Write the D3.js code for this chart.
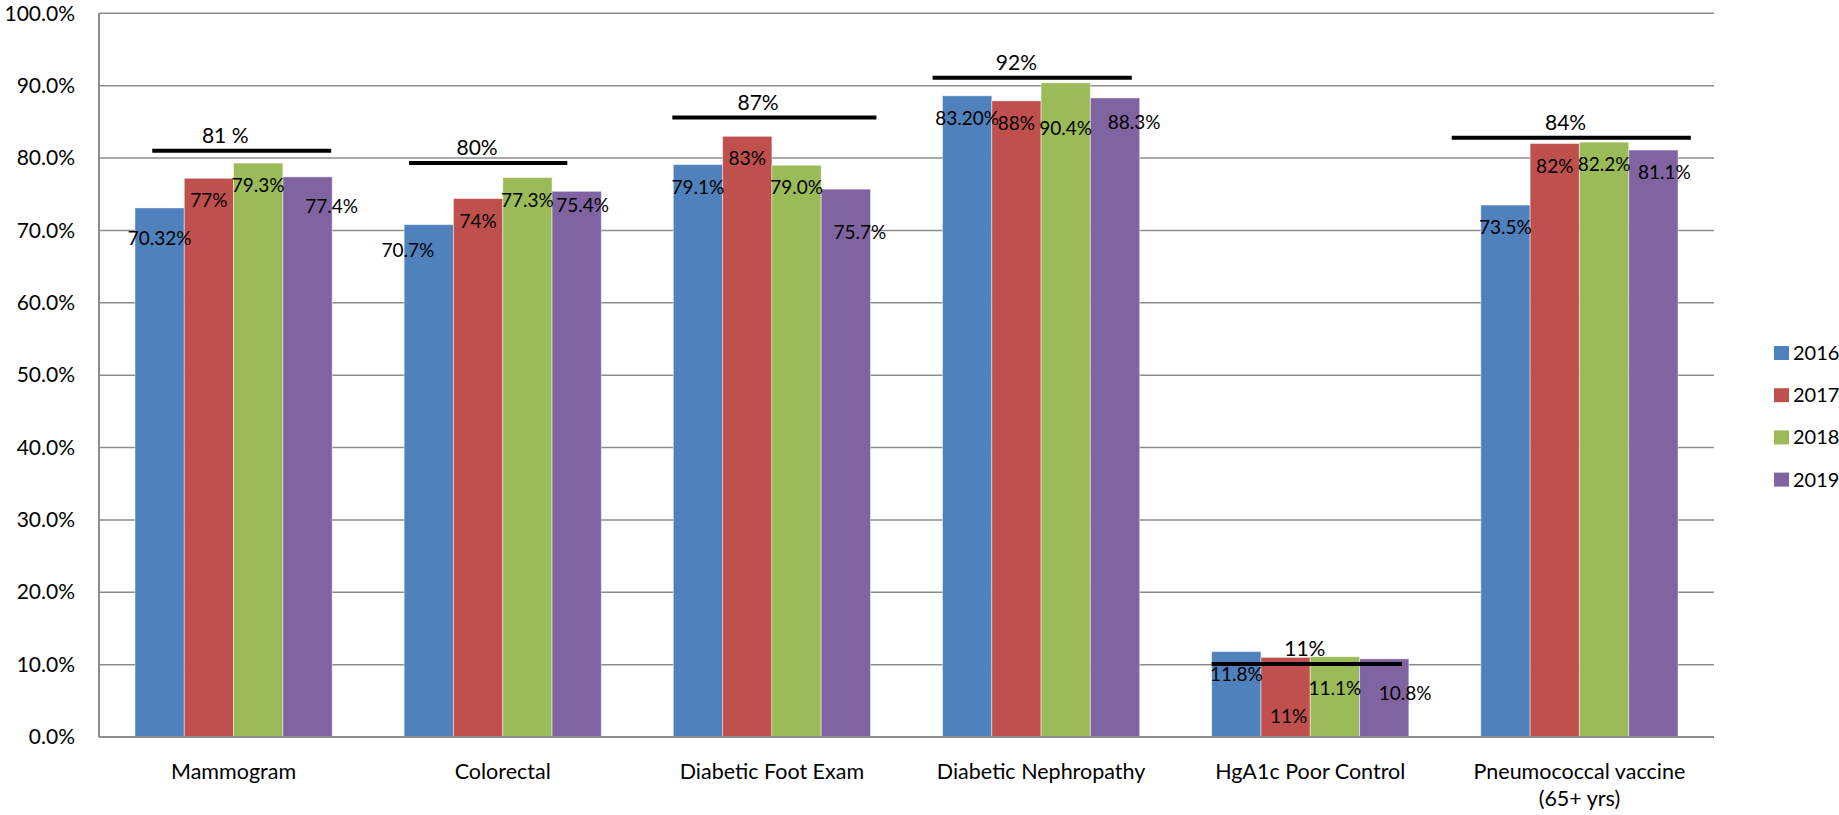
<!DOCTYPE html>
<html>
<head>
<meta charset="utf-8">
<script src="https://cdn.jsdelivr.net/npm/d3@7"></script>
<style>
  html, body { margin: 0; padding: 0; background: #ffffff; }
  svg { display: block; font-family: "Lato", "Liberation Sans", sans-serif; }
</style>
</head>
<body>
<svg id="chart" width="1839" height="815"></svg>
<script>
// ---- data ----
const categories = ["Mammogram", "Colorectal", "Diabetic Foot Exam", "Diabetic Nephropathy", "HgA1c Poor Control", "Pneumococcal vaccine\n(65+ yrs)"]
const years = ["2016", "2017", "2018", "2019"]

// bar heights (percent) as drawn
const values2016 = [73.1, 70.8, 79.1, 88.6, 11.8, 73.5]
const values2017 = [77.2, 74.4, 83.0, 87.9, 11.0, 82.0]
const values2018 = [79.3, 77.3, 79.0, 90.4, 11.1, 82.2]
const values2019 = [77.4, 75.4, 75.7, 88.3, 10.8, 81.1]

// data label texts as printed on the chart
const labels2016 = ["70.32%", "70.7%", "79.1%", "83.20%", "11.8%", "73.5%"]
const labels2017 = ["77%", "74%", "83%", "88%", "11%", "82%"]
const labels2018 = ["79.3%", "77.3%", "79.0%", "90.4%", "11.1%", "82.2%"]
const labels2019 = ["77.4%", "75.4%", "75.7%", "88.3%", "10.8%", "81.1%"]

// goal markers: printed text and level of the drawn line
const goalText = ["81 %", "80%", "87%", "92%", "11%", "84%"]
const goalLevel = [81, 79.3, 85.6, 91.1, 10.1, 82.8]

const yTicks = [0, 10, 20, 30, 40, 50, 60, 70, 80, 90, 100]

const seriesValues = [values2016, values2017, values2018, values2019]
const seriesLabels = [labels2016, labels2017, labels2018, labels2019]
const colors = ["#4F81BD", "#C0504D", "#9BBB59", "#8064A2"]

// ---- layout ----
const plot = { left: 99, right: 1714, top: 13.3, bottom: 737 }

// goal line extent and label centre, in bar widths from the left edge of the group
const goalSpan = [[0.35, 3.98], [0.1, 3.31], [-0.02, 4.12], [-0.2, 3.84], [0, 3.86], [-0.59, 4.26]]
const goalLabelAt = [1.83, 1.48, 1.72, 1.5, 1.89, 1.72]

// hand-moved data labels: [dx, extra dy]
const labelNudge = {
  "0-0": [0, 8], "0-3": [24, 7],
  "1-0": [-21, 3], "1-3": [6, -8],
  "2-3": [14, 21],
  "3-2": [0, 23], "3-3": [19, 2],
  "4-1": [3, 37], "4-2": [0, 9], "4-3": [21, 12],
  "5-3": [11, 0]
}

const svg = d3.select("#chart")

const x0 = d3.scaleBand()
  .domain(categories)
  .range([plot.left, plot.right])
  .paddingInner(0)
  .paddingOuter(0)

const x1 = d3.scaleBand()
  .domain(years)
  .range([0, x0.bandwidth()])
  .paddingInner(0)
  .paddingOuter(0.73)

const y = d3.scaleLinear()
  .domain([0, 100])
  .range([plot.bottom, plot.top])

const barW = x1.bandwidth()
const groupLeft = c => x0(c) + x1(years[0])

// gridlines
svg.append("g")
  .selectAll("line")
  .data(yTicks.filter(t => t > 0))
  .enter()
  .append("line")
  .attr("x1", plot.left)
  .attr("x2", plot.right)
  .attr("y1", d => y(d))
  .attr("y2", d => y(d))
  .attr("stroke", "#8c8c8c")
  .attr("stroke-width", 1.5)

// y axis (labels only, line drawn separately)
const yAxis = d3.axisLeft(y)
  .tickValues(yTicks)
  .tickSize(0)
  .tickPadding(24)
  .tickFormat(d => d.toFixed(1) + "%")

const yAxisG = svg.append("g")
  .attr("transform", `translate(${plot.left},0)`)
  .call(yAxis)
yAxisG.select(".domain").remove()
yAxisG.selectAll("text")
  .attr("font-family", "Lato, 'Liberation Sans', sans-serif")
  .attr("font-size", "21px")
  .attr("fill", "#000")

// bars
const groups = svg.append("g")
  .selectAll("g")
  .data(categories)
  .enter()
  .append("g")
  .attr("transform", c => `translate(${x0(c)},0)`)

groups.selectAll("rect")
  .data((c, ci) => years.map((yr, si) => ({ ci, si, yr, v: seriesValues[si][ci] })))
  .enter()
  .append("rect")
  .attr("x", d => x1(d.yr))
  .attr("width", barW)
  .attr("y", d => y(d.v))
  .attr("height", d => y(0) - y(d.v))
  .attr("fill", d => colors[d.si])
  .attr("stroke", "rgba(255,255,255,0.45)")
  .attr("stroke-width", 1)

// axis lines
svg.append("line")
  .attr("x1", plot.left).attr("x2", plot.left)
  .attr("y1", plot.top).attr("y2", plot.bottom)
  .attr("stroke", "#8c8c8c")
  .attr("stroke-width", 2)
svg.append("line")
  .attr("x1", plot.left).attr("x2", plot.right)
  .attr("y1", plot.bottom).attr("y2", plot.bottom)
  .attr("stroke", "#8c8c8c")
  .attr("stroke-width", 2)

// data labels
groups.selectAll("text.val")
  .data((c, ci) => years.map((yr, si) => ({ ci, si, yr, v: seriesValues[si][ci], t: seriesLabels[si][ci] })))
  .enter()
  .append("text")
  .attr("class", "val")
  .attr("x", d => x1(d.yr) + barW / 2 + (labelNudge[`${d.ci}-${d.si}`] || [0, 0])[0])
  .attr("y", d => y(d.v) + 29 + (labelNudge[`${d.ci}-${d.si}`] || [0, 0])[1])
  .attr("text-anchor", "middle")
  .attr("font-size", "19px")
  .attr("fill", "#000")
  .text(d => d.t)

// goal lines + labels
const goals = svg.append("g")
  .selectAll("g")
  .data(categories)
  .enter()
  .append("g")

goals.append("line")
  .attr("x1", (c, i) => groupLeft(c) + goalSpan[i][0] * barW)
  .attr("x2", (c, i) => groupLeft(c) + goalSpan[i][1] * barW)
  .attr("y1", (c, i) => y(goalLevel[i]))
  .attr("y2", (c, i) => y(goalLevel[i]))
  .attr("stroke", "#000")
  .attr("stroke-width", 4)

goals.append("text")
  .attr("x", (c, i) => groupLeft(c) + goalLabelAt[i] * barW)
  .attr("y", (c, i) => y(goalLevel[i]) - 8)
  .attr("text-anchor", "middle")
  .attr("font-size", "21px")
  .attr("fill", "#000")
  .text((c, i) => goalText[i])

// category labels
const catText = svg.append("g")
  .selectAll("text")
  .data(categories)
  .enter()
  .append("text")
  .attr("x", c => x0(c) + x0.bandwidth() / 2)
  .attr("y", 779)
  .attr("text-anchor", "middle")
  .attr("font-size", "21.5px")
  .attr("fill", "#000")

catText.selectAll("tspan")
  .data(c => c.split("\n"))
  .enter()
  .append("tspan")
  .attr("x", function () { return this.parentNode.getAttribute("x") })
  .attr("dy", (d, i) => i === 0 ? 0 : 27)
  .text(d => d)

// legend
const legend = svg.append("g")
  .attr("transform", "translate(1774, 346)")

const legendItems = legend.selectAll("g")
  .data(years)
  .enter()
  .append("g")
  .attr("transform", (d, i) => `translate(0, ${i * 42.2})`)

legendItems.append("rect")
  .attr("width", 15)
  .attr("height", 14)
  .attr("fill", (d, i) => colors[i])

legendItems.append("text")
  .attr("x", 19)
  .attr("y", 7)
  .attr("dy", "0.35em")
  .attr("font-size", "20px")
  .attr("fill", "#000")
  .text(d => d)
</script>
</body>
</html>
